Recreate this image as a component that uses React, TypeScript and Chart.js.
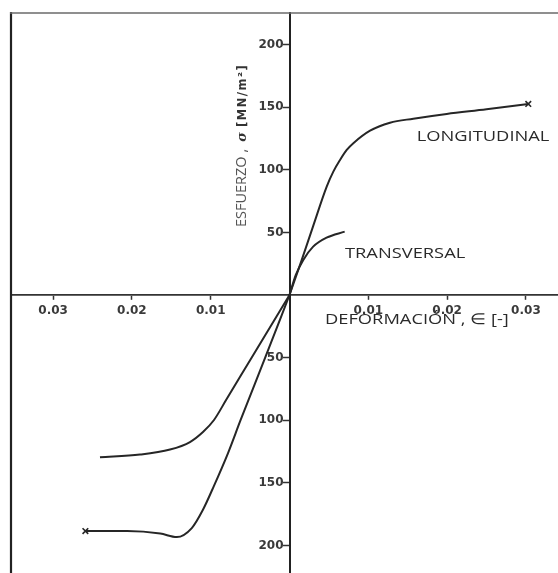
import React, { useEffect, useRef } from 'react';
import { Chart, registerables } from 'chart.js';

Chart.register(...registerables);

// Axis ticks (labels shown without sign, as in the figure)
const X_TICKS = [-0.03, -0.02, -0.01, 0.01, 0.02, 0.03];
const Y_TICKS = [-200, -150, -100, -50, 50, 100, 150, 200];

// Longitudinal curve, compression branch: strain (-) vs stress (MN/m²)
const LONG_COMP_X = [-0.0259, -0.0206, -0.0164, -0.0143, -0.0124, -0.011, -0.0096, -0.0078, -0.0062, -0.0031, 0];
const LONG_COMP_Y = [-188.5, -188.5, -190.5, -193.3, -186.1, -171.7, -152.6, -126.2, -99.8, -50.3, 0];
// Longitudinal curve, tension branch
const LONG_TENS_X = [0, 0.0015, 0.003, 0.00472, 0.00556, 0.00641, 0.00726, 0.0081, 0.01022, 0.01275, 0.01571, 0.01995, 0.025, 0.0303];
const LONG_TENS_Y = [0, 27, 55, 86.5, 98.5, 107.8, 115.8, 121.2, 131.2, 137.6, 140.8, 144.6, 148.3, 152.6];

// Transversal curve, compression branch
const TRANS_COMP_X = [-0.02405, -0.01897, -0.01516, -0.01263, -0.01098, -0.00958, -0.00805, -0.00483, 0];
const TRANS_COMP_Y = [-129.6, -127.4, -123.4, -117.4, -109.4, -99.8, -83.9, -50.3, 0];
// Transversal curve, tension branch
const TRANS_TENS_X = [0, 0.0008, 0.00175, 0.003, 0.0047, 0.007];
const TRANS_TENS_Y = [0, 16, 28, 38.6, 45.8, 50.6];

// Annotations (text, anchored in data coordinates: left edge / vertical centre)
const LABELS = ['LONGITUDINAL', 'TRANSVERSAL', 'DEFORMACIÓN , ∈ [-]'];
const LABEL_X = [0.01614, 0.00704, 0.0045];
const LABEL_Y = [126.4, 33.3, -20];

// Y axis title pieces
const Y_TITLE = ['ESFUERZO ,', 'σ', '[MN/m²]'];
const Y_TITLE_START = 54.3; // stress value where the title begins (bottom)

const X_MIN = -0.03534;
const X_MAX = 0.03407;
const Y_MIN = -222;
const Y_MAX = 225.2;

const annotPlugin = {
  id: 'annot',
  afterDraw(chart: any) {
    const { ctx, chartArea, scales } = chart;
    const xs = scales.x;
    const ys = scales.y;
    ctx.save();
    // frame: left and top borders
    ctx.strokeStyle = '#222';
    ctx.lineWidth = 2.2;
    ctx.beginPath();
    ctx.moveTo(chartArea.left, chartArea.top - 1);
    ctx.lineTo(chartArea.left, chart.height);
    ctx.stroke();
    ctx.strokeStyle = '#6a6a6a';
    ctx.lineWidth = 1.5;
    ctx.beginPath();
    ctx.moveTo(chartArea.left - 1, chartArea.top);
    ctx.lineTo(chart.width, chartArea.top);
    ctx.stroke();

    // horizontally stretched annotation texts (the scan is stretched)
    const stretch = 1.22;
    ctx.fillStyle = '#2a2a2a';
    ctx.font = '15px "Open Sans"';
    ctx.textAlign = 'left';
    ctx.textBaseline = 'middle';
    LABELS.forEach((t, i) => {
      const px = xs.getPixelForValue(LABEL_X[i]);
      const py = ys.getPixelForValue(LABEL_Y[i]);
      ctx.save();
      ctx.translate(px, py);
      ctx.scale(stretch, 1);
      ctx.fillText(t, 0, 0);
      ctx.restore();
    });

    // rotated y-axis title
    const ax = xs.getPixelForValue(0);
    const yb = ys.getPixelForValue(Y_TITLE_START);
    ctx.save();
    ctx.translate(ax - 47.5, yb);
    ctx.rotate(-Math.PI / 2);
    ctx.textAlign = 'left';
    ctx.textBaseline = 'middle';
    ctx.fillStyle = '#555';
    ctx.font = '14.5px "Open Sans"';
    ctx.fillText(Y_TITLE[0], 0, 0);
    ctx.fillStyle = '#333';
    ctx.font = 'italic bold 13px "DejaVu Serif"';
    ctx.textAlign = 'center';
    ctx.fillText(Y_TITLE[1], 90, 1);
    ctx.textAlign = 'left';
    ctx.font = 'bold 11.5px "DejaVu Sans"';
    (ctx as any).letterSpacing = '1.5px';
    ctx.fillText(Y_TITLE[2], 100, 1);
    ctx.restore();

    ctx.restore();
  },
};

const zeroPadding = (scale: any) => {
  scale.paddingLeft = 0;
  scale.paddingRight = 0;
  scale.paddingTop = 0;
  scale.paddingBottom = 0;
};

export default function App() {
  const ref = useRef<HTMLCanvasElement | null>(null);

  useEffect(() => {
    if (!ref.current) return;
    const lineColor = '#262626';
    const toPts = (xs: number[], ys: number[]) => xs.map((x, i) => ({ x, y: ys[i] }));
    const tickFont = { family: '"DejaVu Sans"', size: 12, weight: 'bold' as const };
    const base = {
      borderColor: lineColor,
      borderWidth: 2,
      cubicInterpolationMode: 'monotone',
      pointStyle: 'crossRot',
      pointBorderColor: lineColor,
      pointBorderWidth: 1.6,
      fill: false,
    };

    const chart = new Chart(ref.current, {
      type: 'line',
      data: {
        datasets: [
          {
            ...base,
            label: 'LONGITUDINAL',
            data: toPts(LONG_COMP_X, LONG_COMP_Y),
            pointRadius: (c: any) => (c.dataIndex === 0 ? 4 : 0),
          },
          {
            ...base,
            label: 'LONGITUDINAL ',
            data: toPts(LONG_TENS_X, LONG_TENS_Y),
            pointRadius: (c: any) => (c.dataIndex === LONG_TENS_X.length - 1 ? 4 : 0),
          },
          {
            ...base,
            label: 'TRANSVERSAL',
            data: toPts(TRANS_COMP_X, TRANS_COMP_Y),
            pointRadius: 0,
          },
          {
            ...base,
            label: 'TRANSVERSAL ',
            data: toPts(TRANS_TENS_X, TRANS_TENS_Y),
            pointRadius: 0,
          },
        ],
      },
      options: {
        animation: false,
        responsive: false,
        layout: { autoPadding: false, padding: { left: 11, top: 13, right: 0, bottom: 0 } },
        plugins: {
          legend: { display: false },
          tooltip: { enabled: false },
          title: { display: false },
        },
        scales: {
          x: {
            type: 'linear',
            min: X_MIN,
            max: X_MAX,
            position: { y: 0 } as any,
            afterBuildTicks: (s: any) => {
              s.ticks = X_TICKS.map((v) => ({ value: v }));
            },
            afterFit: zeroPadding,
            border: { display: true, color: '#333', width: 1.8 },
            grid: { drawOnChartArea: false, drawTicks: true, tickLength: 4, tickColor: '#333', tickWidth: 1.5 },
            ticks: {
              autoSkip: false,
              maxRotation: 0,
              padding: 5,
              color: '#3a3a3a',
              font: tickFont,
              callback: (v: any) => Math.abs(Number(v)).toFixed(2),
            },
          },
          y: {
            type: 'linear',
            min: Y_MIN,
            max: Y_MAX,
            position: { x: 0 } as any,
            afterBuildTicks: (s: any) => {
              s.ticks = Y_TICKS.map((v) => ({ value: v }));
            },
            afterFit: zeroPadding,
            border: { display: true, color: '#222', width: 2 },
            grid: { drawOnChartArea: false, drawTicks: true, tickLength: 6, tickColor: '#333', tickWidth: 1.5 },
            ticks: {
              autoSkip: false,
              padding: 3,
              color: '#3a3a3a',
              font: tickFont,
              callback: (v: any) => String(Math.abs(Number(v))) + '\u2002',
            },
          },
        },
      },
      plugins: [annotPlugin],
    } as any);

    return () => chart.destroy();
  }, []);

  return (
    <div style={{ position: 'fixed', left: 0, top: 0, width: 558, height: 573, background: '#fff' }}>
      <canvas ref={ref} width={558} height={573} style={{ display: 'block', width: 558, height: 573 }} />
    </div>
  );
}
